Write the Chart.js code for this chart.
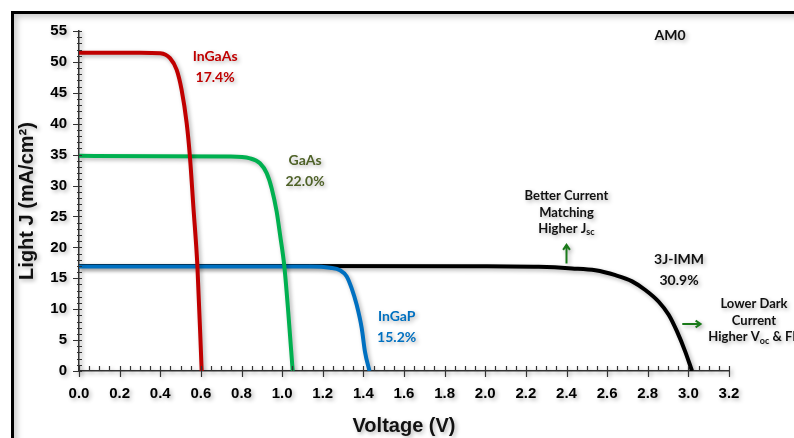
<!DOCTYPE html>
<html>
<head>
<meta charset="utf-8">
<script src="https://cdn.jsdelivr.net/npm/chart.js@4/dist/chart.umd.min.js"></script>
<style>
  html, body { margin: 0; padding: 0; background: #fff; }
  #wrap { position: relative; width: 794px; height: 438px; overflow: hidden; }
  #frame {
    position: absolute; left: 11px; top: 11px; width: 900px; height: 600px;
    border: 3px solid #000; box-shadow: inset 3px 3px 6px rgba(0,0,0,0.22);
    pointer-events: none;
  }
</style>
</head>
<body>
<div id="wrap">
  <canvas id="ivChart" width="794" height="438"></canvas>
  <div id="frame"></div>
</div>
<script>
// I-V curves (voltage in V, current density in mA/cm2)
const ingaasV = [0, 0.30, 0.40, 0.448, 0.481, 0.505, 0.530, 0.546, 0.563, 0.583, 0.604];
const ingaasJ = [51.5, 51.5, 51.4, 50.6, 48.7, 45.5, 40.1, 34.7, 26.6, 16.9, 0];

const gaasV = [0, 0.74, 0.842, 0.891, 0.924, 0.949, 0.973, 0.990, 1.011, 1.030, 1.052];
const gaasJ = [34.8, 34.7, 34.4, 33.6, 32.0, 29.5, 25.8, 22.0, 16.9, 9.6, 0];

const ingapV = [0, 1.14, 1.236, 1.285, 1.318, 1.342, 1.367, 1.392, 1.408, 1.430];
const ingapJ = [16.9, 16.9, 16.7, 16.3, 15.3, 13.4, 10.7, 6.9, 3.1, 0];

const imm3jV = [0, 1.0, 1.935, 2.263, 2.427, 2.542, 2.641, 2.723, 2.788, 2.854, 2.903, 2.944, 2.985, 3.018];
const imm3jJ = [17.0, 17.0, 16.95, 16.85, 16.6, 16.3, 15.5, 14.5, 13.1, 11.2, 9.1, 6.4, 3.1, 0];

const cellNames = ['InGaAs', 'GaAs', 'InGaP', '3J-IMM'];
const cellEff = ['17.4%', '22.0%', '15.2%', '30.9%'];
const cellColors = ['#C00000', '#00B050', '#0070C0', '#000000'];
const labelColors = ['#C00000', '#4F6228', '#0070C0', '#111111'];
// where each label sits, in axis units
const labelV = [0.67, 1.113, 1.564, 2.954];
const labelJ = [50.9, 34.1, 8.8, 18.1];

const xMin = 0, xMax = 3.2, xStep = 0.2;
const yMin = 0, yMax = 55, yStep = 5;

function pts(vs, js) {
  return vs.map((v, i) => ({ x: v, y: js[i] }));
}

const series = [
  [ingaasV, ingaasJ], [gaasV, gaasJ], [ingapV, ingapJ], [imm3jV, imm3jJ]
];

const datasets = series.map((s, i) => ({
  label: cellNames[i],
  data: pts(s[0], s[1]),
  borderColor: cellColors[i],
  borderWidth: 4,
  pointRadius: 0,
  cubicInterpolationMode: 'monotone',
  fill: false,
  order: i + 1
}));

// draws text with an optional subscript part: parts = [[text, isSub], ...]
function richText(ctx, parts, cx, cy, size) {
  const big = 'bold ' + size + 'px Lato';
  const small = 'bold ' + Math.round(size * 0.7) + 'px Lato';
  let w = 0;
  parts.forEach(p => { ctx.font = p[1] ? small : big; w += ctx.measureText(p[0]).width; });
  let x = cx - w / 2;
  ctx.textAlign = 'left';
  ctx.textBaseline = 'middle';
  parts.forEach(p => {
    ctx.font = p[1] ? small : big;
    ctx.fillText(p[0], x, p[1] ? cy + 4 : cy);
    x += ctx.measureText(p[0]).width;
  });
}

function arrow(ctx, x1, y1, x2, y2) {
  const a = Math.atan2(y2 - y1, x2 - x1);
  ctx.beginPath();
  ctx.moveTo(x1, y1);
  ctx.lineTo(x2, y2);
  ctx.moveTo(x2 - 6 * Math.cos(a - 0.6), y2 - 6 * Math.sin(a - 0.6));
  ctx.lineTo(x2, y2);
  ctx.lineTo(x2 - 6 * Math.cos(a + 0.6), y2 - 6 * Math.sin(a + 0.6));
  ctx.stroke();
}

const decorations = {
  id: 'decorations',
  beforeDraw(chart) {
    const ctx = chart.ctx;
    ctx.save();
    ctx.shadowColor = 'rgba(0,0,0,0.3)';
    ctx.shadowBlur = 4;
    ctx.shadowOffsetX = 2;
    ctx.shadowOffsetY = 2;
  },
  afterDatasetsDraw(chart) {
    const { ctx, scales: { x, y } } = chart;
    ctx.save();
    ctx.textAlign = 'center';
    ctx.textBaseline = 'middle';
    cellNames.forEach((name, i) => {
      const px = x.getPixelForValue(labelV[i]);
      const py = y.getPixelForValue(labelJ[i]);
      ctx.fillStyle = labelColors[i];
      ctx.font = 'bold 14px Lato';
      ctx.fillText(name, px, py);
      ctx.fillText(cellEff[i], px, py + 21);
    });

    ctx.fillStyle = '#111';
    ctx.font = 'bold 14px Lato';
    ctx.fillText('AM0', x.getPixelForValue(2.91), y.getPixelForValue(54.3));

    // jsc note
    const bx = x.getPixelForValue(2.40);
    const by = y.getPixelForValue(28.4);
    richText(ctx, [['Better Current', false]], bx, by, 13);
    richText(ctx, [['Matching', false]], bx, by + 17, 13);
    richText(ctx, [['Higher J', false], ['sc', true]], bx, by + 33, 13);

    // voc note
    const lx = x.getPixelForValue(3.323);
    const ly = y.getPixelForValue(10.9);
    richText(ctx, [['Lower Dark', false]], lx, ly, 13);
    richText(ctx, [['Current', false]], lx, ly + 17, 13);
    richText(ctx, [['Higher V', false], ['oc', true], [' & FF', false]], lx, ly + 33, 13);

    ctx.strokeStyle = '#1A7A1A';
    ctx.lineWidth = 2;
    arrow(ctx, bx, y.getPixelForValue(17.4), bx, y.getPixelForValue(20.4));
    arrow(ctx, x.getPixelForValue(2.97), y.getPixelForValue(7.6), x.getPixelForValue(3.06), y.getPixelForValue(7.6));
    ctx.restore();
  },
  afterDraw(chart) {
    const { ctx, scales: { x, y } } = chart;
    ctx.strokeStyle = '#333';
    ctx.lineWidth = 1.2;
    ctx.beginPath();
    const nx = Math.round((xMax - xMin) / 0.05);
    for (let i = 0; i <= nx; i++) {
      const px = Math.round(x.getPixelForValue(xMin + i * 0.05)) + 0.5;
      const major = i % 4 === 0;
      ctx.moveTo(px, y.bottom - 5);
      ctx.lineTo(px, y.bottom + (major ? 6 : 0));
    }
    for (let j = yMin; j <= yMax; j++) {
      const py = Math.round(y.getPixelForValue(j)) + 0.5;
      const major = j % yStep === 0;
      ctx.moveTo(x.left - (major ? 6 : 2), py);
      ctx.lineTo(x.left + 3, py);
    }
    ctx.stroke();
    ctx.restore();
  }
};

new Chart(document.getElementById('ivChart'), {
  type: 'line',
  data: { datasets },
  options: {
    responsive: false,
    animation: false,
    layout: { padding: { left: 0, top: 31, right: 65, bottom: 0 } },
    plugins: { legend: { display: false }, tooltip: { enabled: false } },
    scales: {
      x: {
        type: 'linear',
        min: xMin, max: xMax,
        afterFit: s => { s.height = 67; },
        grid: { drawOnChartArea: false, drawTicks: false },
        border: { display: true, color: '#333', width: 1.5 },
        ticks: {
          stepSize: xStep, padding: 14, color: '#000',
          font: { family: 'Liberation Sans', size: 15, weight: 'bold' },
          callback: v => Number(v).toFixed(1)
        },
        title: {
          display: true, text: 'Voltage (V)', color: '#111',
          font: { family: 'Liberation Sans', size: 20, weight: 'bold' },
          padding: { top: 0, bottom: 0 }
        }
      },
      y: {
        min: yMin, max: yMax,
        afterFit: s => { s.width = 79; },
        grid: { drawOnChartArea: false, drawTicks: false },
        border: { display: true, color: '#333', width: 1.5 },
        ticks: {
          stepSize: yStep, padding: 12, color: '#000',
          font: { family: 'Liberation Sans', size: 15, weight: 'bold' }
        },
        title: {
          display: true, text: 'Light J (mA/cm\u00B2)', color: '#111',
          font: { family: 'Liberation Sans', size: 20, weight: 'bold' },
          padding: { top: 15, bottom: 0 }
        }
      }
    }
  },
  plugins: [decorations]
});
</script>
</body>
</html>
